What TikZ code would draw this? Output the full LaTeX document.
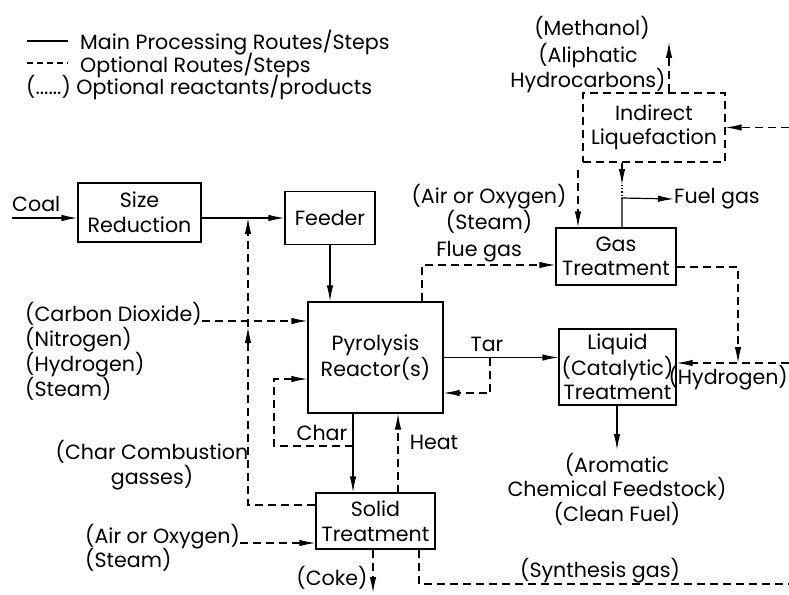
\documentclass[tikz,border=0pt]{standalone}
\usepackage{fontspec}
\setmainfont{Poppins}
\usepackage{tikz}
\usetikzlibrary{positioning,calc,arrows.meta}

\tikzset{
  box/.style={draw, line width=1.2pt, align=center, inner sep=0pt},
  optbox/.style={box, dash pattern=on 8pt off 5pt},
  mainline/.style={line width=1.2pt},
  optline/.style={line width=1.2pt, dash pattern=on 8pt off 5pt},
  arr/.style={-{Latex[length=16pt,width=6.5pt]}},
  lbl/.style={inner sep=0pt, align=center},
}

\begin{document}
\begin{tikzpicture}[x=1pt, y=-1pt, font=\fontsize{20.6}{24.5}\selectfont]
    \useasboundingbox (0,0) rectangle (789,594);

    % Legend
    \node[lbl, anchor=base west] (leg1) at (80,50) {Main Processing Routes/Steps};
    \node[lbl, anchor=base west] (leg2) at (80,72) {Optional Routes/Steps};
    \node[lbl, anchor=base west] (leg3) at (26,94) {(......)~Optional reactants/products};
    \draw[mainline] ([xshift=-53pt, yshift=2pt]leg1.west) -- ([xshift=-12pt, yshift=2pt]leg1.west);
    \draw[line width=1.2pt, dash pattern=on 6pt off 4pt] ([xshift=-53pt, yshift=2pt]leg2.west) -- ([xshift=-12pt, yshift=2pt]leg2.west);

    % Process units
    \node[box, minimum width=123pt, minimum height=59pt] (sizered) at (139.5,212.5) {Size\\Reduction};
    \node[box, minimum width=90pt, minimum height=53pt] (feeder) at (330,218) {Feeder};
    \node[box, minimum width=135pt, minimum height=111pt] (pyro) at (375.5,357.5) {Pyrolysis\\Reactor(s)};
    \node[box, minimum width=120pt, minimum height=57pt] (gastr) at (616,256.5) {Gas\\Treatment};
    \node[box, minimum width=117pt, minimum height=76pt] (liqtr) at (617.5,367) {Liquid\\(Catalytic)\\Treatment};
    \node[optbox, minimum width=142pt, minimum height=69pt] (indliq) at (654,127.5) {Indirect\\Liquefaction};
    \node[box, minimum width=119pt, minimum height=56pt] (solid) at (375.5,521) {Solid\\Treatment};

    % Labels
    \node[lbl, anchor=south west] (coal) at (12,212) {Coal};
    \node[lbl, anchor=base west] (co2) at (25,321) {(Carbon Dioxide)};
    \node[lbl, anchor=base west] (n2) at (25,346) {(Nitrogen)};
    \node[lbl, anchor=base west] (h2l) at (25,371) {(Hydrogen)};
    \node[lbl, anchor=base west] (stl) at (25,396) {(Steam)};
    \node[lbl] (ccglbl) at (152,465) {(Char Combustion\\gasses)};
    \node[lbl, anchor=base west] (airsol) at (85,543) {(Air or Oxygen)};
    \node[lbl, anchor=base west] (stsol) at (85,567) {(Steam)};
    \node[lbl] (coke) at (332,578) {(Coke)};
    \node[lbl] (char) at (322,433) {Char};
    \node[lbl] (heat) at (434,442) {Heat};
    \node[lbl] (tar) at (487,344) {Tar};
    \node[lbl] (flue) at (479,252) {Flue gas};
    \node[lbl] (airgas) at (489,209) {(Air or Oxygen)\\(Steam)};
    \node[lbl, anchor=west] (fuel) at (674,199) {Fuel gas};
    \node[lbl, anchor=east] (h2r) at (788,378) {(Hydrogen)};
    \node[lbl] (arom) at (617,489) {(Aromatic\\Chemical Feedstock)\\(Clean Fuel)};
    \node[lbl] (synlbl) at (600,571) {(Synthesis gas)};
    \node[lbl] (meth) at (592,28) {(Methanol)};
    \node[lbl] (aliph) at (588,68) {(Aliphatic\\Hydrocarbons)};

    % Free ends and corners
    \coordinate (coalin) at (12,218);
    \coordinate (ccg) at (248,505);
    \coordinate (ccgmid) at (248,327);
    \coordinate (charbr) at (353,446);
    \coordinate (charup) at (274,379);
    \coordinate (tarbr) at (490,357.5);
    \coordinate (tardn) at (490,393);
    \coordinate (fluec) at (422,265);
    \coordinate (gasout) at (738,267);
    \coordinate (h2j) at (738,363);
    \coordinate (h2in) at (789,363);
    \coordinate (airg) at (578,170);
    \coordinate (fuelc) at (622,198);
    \coordinate (ilarr) at (622,185);
    \coordinate (methup) at (669,42);
    \coordinate (ilin) at (789,127.5);
    \coordinate (syn) at (419,584);
    \coordinate (synend) at (789,584);
    \coordinate (cokedn) at (373,593);
    \coordinate (heatb) at (398,493);
    \coordinate (aromdn) at (617,450);

    % Main routes
    \draw[mainline, arr] (coalin) -- (sizered.west |- coalin);
    \draw[mainline, arr] (sizered.east |- feeder.west) -- (feeder.west);
    \draw[mainline, arr] (feeder.south) -- (feeder.south |- pyro.north);
    \draw[mainline, arr] (pyro.south -| charbr) -- (solid.north -| charbr);
    \draw[mainline, arr] (pyro.east |- tarbr) -- (liqtr.west |- tarbr);
    \draw[mainline, arr] (gastr.north -| fuelc) -- (fuelc) -- (fuel.west);
    \draw[mainline, arr] (liqtr.south -| aromdn) -- (aromdn);

    % Optional routes
    \draw[optline, arr] (co2.base east) -- (pyro.west |- co2.base east);
    \draw[optline, arr] (solid.west |- ccg) -- (ccg) -- (ccgmid);
    \draw[optline, arr] (ccgmid) -- (ccg |- feeder.west);
    \draw[optline, arr] (charbr) -| (charup) -- (pyro.west |- charup);
    \draw[optline, arr] (heatb) -- (heatb |- pyro.south);
    \draw[optline, arr] (tarbr) -- (tardn) -- (pyro.east |- tardn);
    \draw[optline, arr] (pyro.north -| fluec) -- (fluec) -- (gastr.west |- fluec);
    \draw[optline, arr] (gastr.east |- gasout) -- (gasout) -- (h2j);
    \draw[optline, arr] (h2in) -- (liqtr.east |- h2in);
    \draw[optline, arr] (airg) -- (airg |- gastr.north);
    \draw[mainline, arr] (indliq.south -| ilarr) -- (ilarr);
    \draw[line width=1.2pt, dotted] (ilarr) -- (fuelc);
    \draw[optline, arr] (indliq.north -| methup) -- (methup);
    \draw[optline, arr] (ilin) -- (indliq.east);
    \draw[optline] (solid.south -| syn) -- (syn) -- (synend);
    \draw[optline, arr] (solid.south -| cokedn) -- (cokedn);
    \draw[optline, arr] (airsol.base east) -- (solid.west |- airsol.base east);
\end{tikzpicture}
\end{document}
